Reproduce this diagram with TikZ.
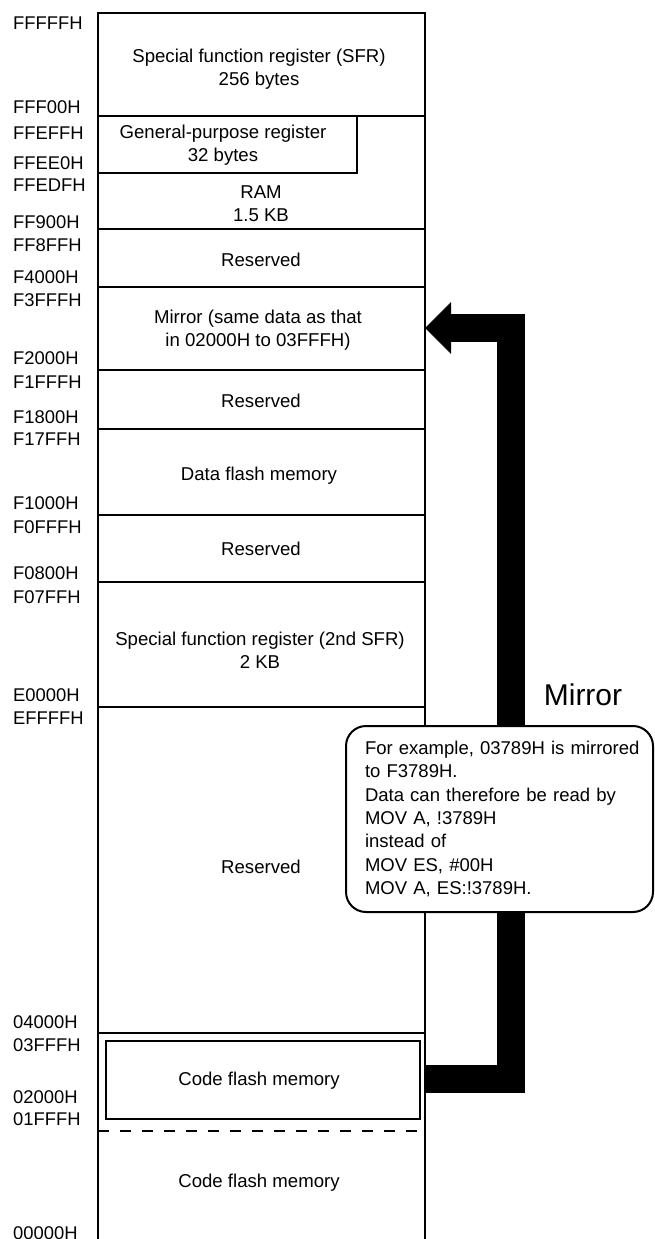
\documentclass[tikz,border=0pt]{standalone}
\usepackage{fontspec}
\setmainfont{Liberation Sans}
\usepackage{tikz}
\usetikzlibrary{
  arrows.meta,
  positioning,
  calc
}
\definecolor{MapBlack}{RGB}{0,0,0}
\tikzset{
  outline/.style={draw=MapBlack,line width=2pt},
  divider/.style={draw=MapBlack,line width=1.2pt},
  dividerdash/.style={draw=MapBlack,line width=1.2pt,dash pattern=on 11pt off 11pt},
  addr/.style={anchor=west,inner sep=0pt,font=\fontsize{18.4}{22}\selectfont},
  blocklabel/.style={align=center,inner sep=0pt,font=\fontsize{18.6}{23}\selectfont},
  mirrorarrow/.style={-{Triangle[length=26pt,width=50pt]},line width=28pt,draw=MapBlack},
  notebox/.style={draw=MapBlack,fill=white,line width=2pt,rounded corners=20pt,anchor=north west,
    minimum width=307pt,minimum height=186pt,text width=269pt,inner xsep=19pt,align=left,
    font=\fontsize{18.5}{23.3}\selectfont}
}
\begin{document}
\begin{tikzpicture}[x=1pt,y=-1pt]
\clip (0,0) rectangle (654,1239);
% address column
\foreach \a/\y in {FFFFFH/23,FFF00H/107,FFEFFH/133,FFEE0H/163,FFEDFH/185,FF900H/222,
  FF8FFH/245,F4000H/277,F3FFFH/300,F2000H/358,F1FFFH/382,F1800H/417,F17FFH/439,
  F1000H/503,F0FFFH/527,F0800H/573,F07FFH/597,E0000H/695,EFFFFH/718,
  04000H/1022,03FFFH/1045,02000H/1097,01FFFH/1119,00000H/1233}
  \node[addr] (a\a) at (13,\y) {\a};
% memory map
\foreach \y in {116,229,287,370,429,515,582,707,1033}
  \draw[divider] (98,\y) -- (425,\y);
\draw[divider] (98,116) rectangle (357,173);
\draw[divider] (106,1041) rectangle (420,1119);
\draw[dividerdash] (98,1131) -- (425,1131);
\draw[outline] (98,1250) -- (98,13) -- (425,13) -- (425,1250);
\node[blocklabel] (sfr) at (259,69) {Special function register (SFR)\\256 bytes};
\node[blocklabel] (gpr) at (223,145) {General-purpose register\\32 bytes};
\node[blocklabel] (ram) at (261,204) {RAM\\1.5 KB};
\node[blocklabel] (res1) at (261,260) {Reserved};
\node[blocklabel] (mir) at (258,330) {Mirror (same data as that\\in 02000H to 03FFFH)};
\node[blocklabel] (res2) at (261,401) {Reserved};
\node[blocklabel] (dfm) at (259,476) {Data flash memory};
\node[blocklabel] (res3) at (261,549) {Reserved};
\node[blocklabel] (sfr2) at (260,650) {Special function register (2nd SFR)\\2 KB};
\node[blocklabel] (res4) at (261,867) {Reserved};
\node[blocklabel] (cfm) at (259,1081) {Code flash memory};
\node[blocklabel] (cfm0) at (259,1183) {Code flash memory};
\coordinate (mirin) at (425,328);
\coordinate (cfmout) at (425,1079);
% mirror arrow
\draw[mirrorarrow] (cfmout) -- ++(86,0) |- (mirin);
\node[font=\fontsize{30}{36}\selectfont,inner sep=0pt] (mirlbl) at (583,695) {Mirror};
\node[notebox] (note) at (345,725) {\mbox{For example, 03789H is mirrored}\\to F3789H.\\
Data can therefore be read by\\MOV A, !3789H\\instead of\\MOV ES, \#00H\\MOV A, ES:!3789H.};
\end{tikzpicture}
\end{document}
